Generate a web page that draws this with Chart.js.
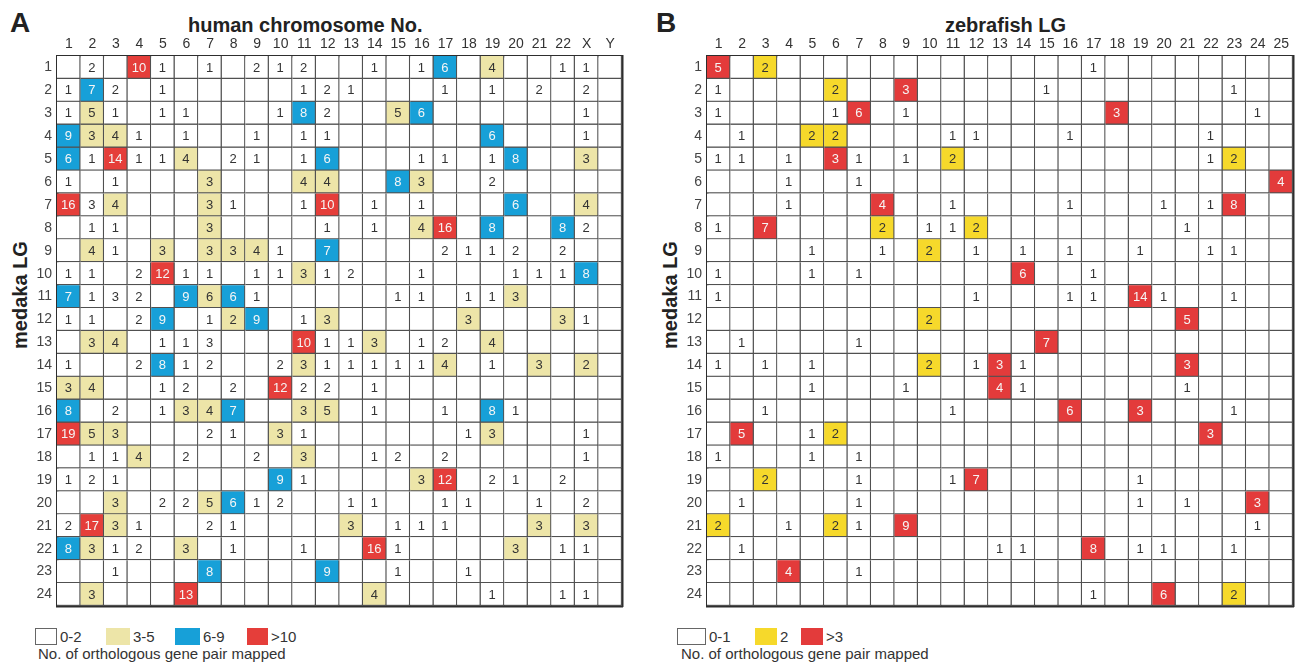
<!DOCTYPE html>
<html>
<head>
<meta charset="utf-8">
<script src="https://cdn.jsdelivr.net/npm/chart.js@4.4.0/dist/chart.umd.min.js"></script>
<style>
  body { margin: 0; background: #fff; font-family: "Liberation Sans", Arial, sans-serif; color: #222; }
  #page { position: relative; width: 1296px; height: 664px; overflow: hidden; }
  .panel { position: absolute; top: 0; height: 620px; }
  .letter { position: absolute; font-weight: bold; font-size: 28px; line-height: 28px; }
  .xtitle { position: absolute; top: 15px; font-weight: bold; font-size: 20px; line-height: 20px; white-space: nowrap; }
  .ytitle { position: absolute; top: 283px; width: 140px; height: 24px; font-weight: bold; font-size: 20px;
            line-height: 24px; text-align: center; white-space: nowrap; transform: rotate(-90deg); }
  .key { position: absolute; font-size: 15px; line-height: 16px; white-space: nowrap; color: #333; }
  .swatch { position: absolute; box-sizing: border-box; }
</style>
</head>
<body>
<div id="page">
  <div class="letter" style="left:10px; top:9px">A</div>
  <div class="letter" style="left:656px; top:9px">B</div>
  <div class="xtitle" style="left:188px">human chromosome No.</div>
  <div class="xtitle" style="left:945px">zebrafish LG</div>
  <div class="ytitle" style="left:-50px">medaka LG</div>
  <div class="ytitle" style="left:600px">medaka LG</div>

  <div class="panel" style="left:0; width:640px"><canvas id="gridHuman"></canvas></div>
  <div class="panel" style="left:650px; width:646px"><canvas id="gridZebrafish"></canvas></div>

  <div id="keyHuman"></div>
  <div id="keyZebrafish"></div>
</div>

<script>
// column / row labels
const humanChr = ['1','2','3','4','5','6','7','8','9','10','11','12','13','14','15','16','17','18','19','20','21','22','X','Y']
const zebrafishLG = ['1','2','3','4','5','6','7','8','9','10','11','12','13','14','15','16','17','18','19','20','21','22','23','24','25']
const medakaLG = ['1','2','3','4','5','6','7','8','9','10','11','12','13','14','15','16','17','18','19','20','21','22','23','24']

// orthologous gene pairs, one row per medaka LG (0 = empty cell)
const pairsHuman = [
  [0,2,0,10,1,0,1,0,2,1,2,0,0,1,0,1,6,0,4,0,0,1,1,0],
  [1,7,2,0,1,0,0,0,0,0,1,2,1,0,0,0,1,0,1,0,2,0,2,0],
  [1,5,1,0,1,1,0,0,0,1,8,2,0,0,5,6,0,0,0,0,0,0,1,0],
  [9,3,4,1,0,1,0,0,1,0,1,1,0,0,0,0,0,0,6,0,0,0,1,0],
  [6,1,14,1,1,4,0,2,1,0,1,6,0,0,0,1,1,0,1,8,0,0,3,0],
  [1,0,1,0,0,0,3,0,0,0,4,4,0,0,8,3,0,0,2,0,0,0,0,0],
  [16,3,4,0,0,0,3,1,0,0,1,10,0,1,0,1,0,0,0,6,0,0,4,0],
  [0,1,1,0,0,0,3,0,0,0,0,1,0,1,0,4,16,0,8,0,0,8,2,0],
  [0,4,1,0,3,0,3,3,4,1,0,7,0,0,0,0,2,1,1,2,0,2,0,0],
  [1,1,0,2,12,1,1,0,1,1,3,1,2,0,0,1,0,0,0,1,1,1,8,0],
  [7,1,3,2,0,9,6,6,1,0,0,0,0,0,1,1,0,1,1,3,0,0,0,0],
  [1,1,0,2,9,0,1,2,9,0,1,3,0,0,0,0,0,3,0,0,0,3,1,0],
  [0,3,4,0,1,1,3,0,0,0,10,1,1,3,0,1,2,0,4,0,0,0,0,0],
  [1,0,0,2,8,1,2,0,0,2,3,1,1,1,1,1,4,0,1,0,3,0,2,0],
  [3,4,0,0,1,2,0,2,0,12,2,2,0,1,0,0,0,0,0,0,0,0,0,0],
  [8,0,2,0,1,3,4,7,0,0,3,5,0,1,0,0,1,0,8,1,0,0,0,0],
  [19,5,3,0,0,0,2,1,0,3,1,0,0,0,0,0,0,1,3,0,0,0,1,0],
  [0,1,1,4,0,2,0,0,2,0,3,0,0,1,2,0,2,0,0,0,0,0,1,0],
  [1,2,1,0,0,0,0,0,0,9,1,0,0,0,0,3,12,0,2,1,0,2,0,0],
  [0,0,3,0,2,2,5,6,1,2,0,0,1,1,0,0,1,1,0,0,1,0,2,0],
  [2,17,3,1,0,0,2,1,0,0,0,0,3,0,1,1,1,0,0,0,3,0,3,0],
  [8,3,1,2,0,3,0,1,0,0,1,0,0,16,1,0,0,0,0,3,0,1,1,0],
  [0,0,1,0,0,0,8,0,0,0,0,9,0,0,1,0,0,1,0,0,0,0,0,0],
  [0,3,0,0,0,13,0,0,0,0,0,0,0,4,0,0,0,0,1,0,0,1,1,0]
]

const pairsZebrafish = [
  [5,0,2,0,0,0,0,0,0,0,0,0,0,0,0,0,1,0,0,0,0,0,0,0,0],
  [1,0,0,0,0,2,0,0,3,0,0,0,0,0,1,0,0,0,0,0,0,0,1,0,0],
  [1,0,0,0,0,1,6,0,1,0,0,0,0,0,0,0,0,3,0,0,0,0,0,1,0],
  [0,1,0,0,2,2,0,0,0,0,1,1,0,0,0,1,0,0,0,0,0,1,0,0,0],
  [1,1,0,1,0,3,1,0,1,0,2,0,0,0,0,0,0,0,0,0,0,1,2,0,0],
  [0,0,0,1,0,0,1,0,0,0,0,0,0,0,0,0,0,0,0,0,0,0,0,0,4],
  [0,0,0,1,0,0,0,4,0,0,1,0,0,0,0,1,0,0,0,1,0,1,8,0,0],
  [1,0,7,0,0,0,0,2,0,1,1,2,0,0,0,0,0,0,0,0,1,0,0,0,0],
  [0,0,0,0,1,0,0,1,0,2,0,1,0,1,0,1,0,0,1,0,0,1,1,0,0],
  [1,0,0,0,1,0,1,0,0,0,0,0,0,6,0,0,1,0,0,0,0,0,0,0,0],
  [1,0,0,0,0,0,0,0,0,0,0,1,0,0,0,1,1,0,14,1,0,0,1,0,0],
  [0,0,0,0,0,0,0,0,0,2,0,0,0,0,0,0,0,0,0,0,5,0,0,0,0],
  [0,1,0,0,0,0,1,0,0,0,0,0,0,0,7,0,0,0,0,0,0,0,0,0,0],
  [1,0,1,0,1,0,0,0,0,2,0,1,3,1,0,0,0,0,0,0,3,0,0,0,0],
  [0,0,0,0,1,0,0,0,1,0,0,0,4,1,0,0,0,0,0,0,1,0,0,0,0],
  [0,0,1,0,0,0,0,0,0,0,1,0,0,0,0,6,0,0,3,0,0,0,1,0,0],
  [0,5,0,0,1,2,0,0,0,0,0,0,0,0,0,0,0,0,0,0,0,3,0,0,0],
  [1,0,0,0,1,0,1,0,0,0,0,0,0,0,0,0,0,0,0,0,0,0,0,0,0],
  [0,0,2,0,0,0,1,0,0,0,1,7,0,0,0,0,0,0,1,0,0,0,0,0,0],
  [0,1,0,0,0,0,1,0,0,0,0,0,0,0,0,0,0,0,1,0,1,0,0,3,0],
  [2,0,0,1,0,2,1,0,9,0,0,0,0,0,0,0,0,0,0,0,0,0,0,1,0],
  [0,1,0,0,0,0,0,0,0,0,0,0,1,1,0,0,8,0,1,1,0,0,1,0,0],
  [0,0,0,4,0,0,1,0,0,0,0,0,0,0,0,0,0,0,0,0,0,0,0,0,0],
  [0,0,0,0,0,0,0,0,0,0,0,0,0,0,0,0,1,0,0,6,0,0,2,0,0]
]

// shading classes
const humanLevelEdges = [3, 6, 10]
const humanColors = ['#ffffff', '#ede5a8', '#17a0d8', '#e53e3a']
const humanKeyLabels = ['0-2', '3-5', '6-9', '>10']
// cells whose shading in the figure does not follow the count: [medaka LG, human chr, class]
const humanShadeFixes = [['7','2',0], ['11','3',0], ['11','7',1], ['12','8',1], ['13','7',0], ['14','X',1]]

const zebraLevelEdges = [2, 3]
const zebraColors = ['#ffffff', '#f6d92b', '#e33b3b']
const zebraKeyLabels = ['0-1', '2', '>3']

const keyCaption = 'No. of orthologous gene pair mapped'

Chart.defaults.font.family = '"Liberation Sans", Arial, sans-serif'


// writes the count into each cell
const cellNumbers = {
    id: 'cellNumbers',
    afterDatasetsDraw(chart, args, opts) {
        const ctx = chart.ctx
        const meta = chart.getDatasetMeta(0)
        const cells = chart.data.datasets[0].data
        ctx.save()
        ctx.font = '13px "Liberation Sans", Arial, sans-serif'
        ctx.textAlign = 'center'
        ctx.textBaseline = 'middle'
        meta.data.forEach((bar, i) => {
            const cell = cells[i]
            if (!cell.v) return
            const p = bar.getCenterPoint()
            ctx.fillStyle = opts.lightLevels.includes(cell.level) ? '#f5f5f5' : '#333'
            ctx.fillText(String(cell.v), p.x - 0.5, p.y + 0.5)
        })
        ctx.restore()
    }
}

function buildCells(rows, cols, counts, edges, fixes) {
    var cells = []
    rows.forEach((lg, r) => {
        cols.forEach((c, k) => {
            var v = counts[r][k]
            var level = edges.filter(e => v >= e).length
            var fix = fixes.find(f => f[0] === lg && f[1] === c)
            if (fix) level = fix[2]
            cells.push({x: c, y: [r + 0.5, r + 1.5], v: v, level: level})
        })
    })
    return cells
}

function makeGrid(canvasId, cols, rows, counts, edges, colors, fixes, lightLevels, padRight) {
    const cells = buildCells(rows, cols, counts, edges, fixes)
    const frame = {display: true, width: 2.5, color: '#2e2e2e'}
    const tickFont = {size: 14}

    const config = {
        type: 'bar',
        data: {
            labels: cols,
            datasets: [{
                data: cells,
                backgroundColor: cells.map(c => colors[c.level]),
                borderColor: '#505050',
                borderWidth: {top: 0, left: 0, right: 1.5, bottom: 1.5},
                borderSkipped: false,
                categoryPercentage: 1,
                barPercentage: 1
            }]
        },
        options: {
            responsive: true,
            maintainAspectRatio: false,
            animation: false,
            events: [],
            layout: {padding: {left: 0, top: 0, right: padRight, bottom: 14}},
            plugins: {
                legend: {display: false},
                tooltip: {enabled: false},
                cellNumbers: {lightLevels: lightLevels}
            },
            scales: {
                x: {
                    type: 'category',
                    position: 'top',
                    offset: true,
                    grid: {display: false, drawTicks: false},
                    border: frame,
                    ticks: {padding: 3, color: '#333', font: tickFont, maxRotation: 0, autoSkip: false},
                    afterFit: s => { s.height = 56 }
                },
                y: {
                    type: 'linear',
                    reverse: true,
                    min: 0.5,
                    max: rows.length + 0.5,
                    grid: {display: false, drawTicks: false},
                    border: frame,
                    afterBuildTicks: s => { s.ticks = rows.map((r, i) => ({value: i + 1})) },
                    ticks: {padding: 5, color: '#444', font: tickFont, callback: v => rows[v - 1]},
                    afterFit: s => { s.width = 57 }
                },
                x2: {
                    type: 'category',
                    position: 'bottom',
                    offset: true,
                    grid: {display: false, drawTicks: false},
                    border: frame,
                    ticks: {display: false},
                    afterFit: s => { s.height = 0 }
                },
                y2: {
                    type: 'linear',
                    position: 'right',
                    reverse: true,
                    min: 0.5,
                    max: rows.length + 0.5,
                    grid: {display: false, drawTicks: false},
                    border: frame,
                    ticks: {display: false},
                    afterFit: s => { s.width = 0 }
                }
            }
        },
        plugins: [cellNumbers]
    }
    return new Chart(document.getElementById(canvasId), config)
}

function buildKey(holderId, left, boxes, labels, colors) {
    const holder = document.getElementById(holderId)
    boxes.forEach((b, i) => {
        var sw = document.createElement('div')
        sw.className = 'swatch'
        sw.style.left = b[0] + 'px'
        sw.style.top = '628px'
        sw.style.width = b[1] + 'px'
        sw.style.height = '17px'
        sw.style.background = colors[i]
        if (i === 0) sw.style.border = '1px solid #666'
        holder.appendChild(sw)

        var t = document.createElement('div')
        t.className = 'key'
        t.style.left = (b[0] + b[1] + 3) + 'px'
        t.style.top = '629px'
        t.textContent = labels[i]
        holder.appendChild(t)
    })
    var cap = document.createElement('div')
    cap.className = 'key'
    cap.style.left = left + 'px'
    cap.style.top = '646px'
    cap.textContent = keyCaption
    holder.appendChild(cap)
}

makeGrid('gridHuman', humanChr, medakaLG, pairsHuman, humanLevelEdges, humanColors, humanShadeFixes, [2, 3], 18)
makeGrid('gridZebrafish', zebrafishLG, medakaLG, pairsZebrafish, zebraLevelEdges, zebraColors, [], [2], 3)

buildKey('keyHuman', 38, [[35, 22], [106, 24], [175, 25], [247, 21]], humanKeyLabels, humanColors)
buildKey('keyZebrafish', 681, [[677, 29], [755, 22], [801, 22]], zebraKeyLabels, zebraColors)
</script>
</body>
</html>
